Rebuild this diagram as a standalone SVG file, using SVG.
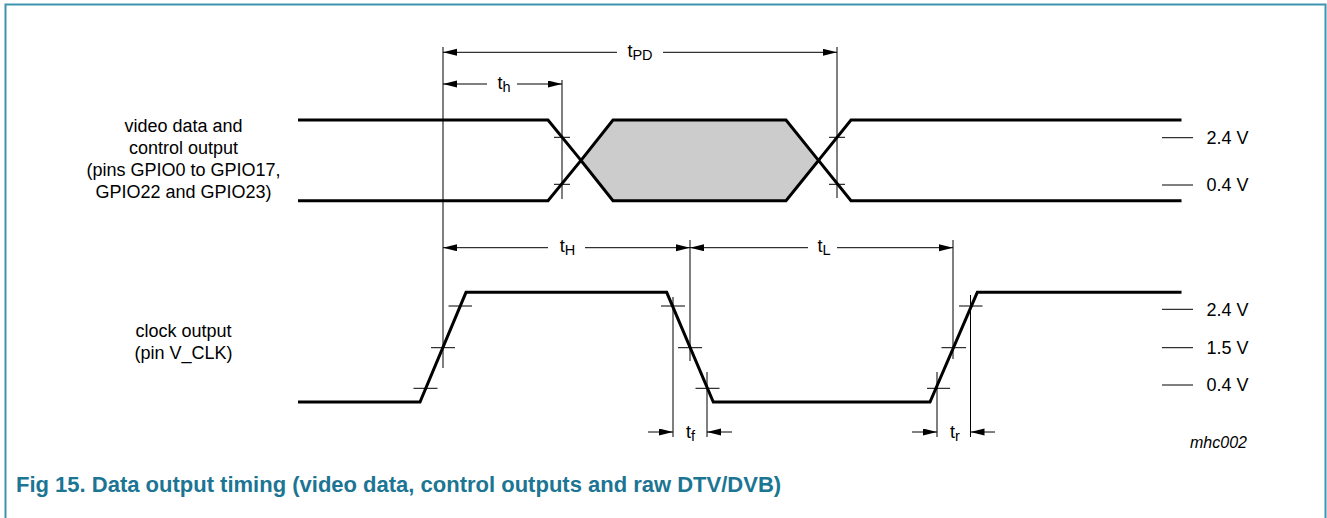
<svg xmlns="http://www.w3.org/2000/svg" width="1327" height="518" viewBox="0 0 1327 518">
<defs>
<marker id="ah" markerUnits="userSpaceOnUse" markerWidth="15" markerHeight="8" refX="14" refY="3.5" orient="auto">
<path d="M0,0 L14,3.5 L0,7 z" fill="#000"/>
</marker>
<style>
.sig{fill:none;stroke:#000;stroke-width:3;stroke-linejoin:miter}
.thin{fill:none;stroke:#000;stroke-width:1}
.dim{fill:none;stroke:#000;stroke-width:1;marker-end:url(#ah)}
.lbl{font-family:"Liberation Sans",Arial,sans-serif;font-size:18px;fill:#000}
.mid{text-anchor:middle}
.sub{font-size:14.5px}
.cap{font-family:"Liberation Sans",Arial,sans-serif;font-size:22px;font-weight:bold;fill:#1b7593}
</style>
</defs>
<rect width="1327" height="518" fill="#fff"/>
<path d="M5.5,518 V4.5 H1325.5 V518" fill="none" stroke="#3f95b0" stroke-width="2"/>

<g id="data-signal">
<polygon points="581,160.4 613,120 786,120 818.5,160.4 786,200.7 613,200.7" fill="#cccccc" stroke="#000" stroke-width="3"/>
<path class="sig" d="M298,120 H548 L581,160.4"/>
<path class="sig" d="M298,200.7 H548 L581,160.4"/>
<path class="sig" d="M818.5,160.4 L851,120 H1181.5"/>
<path class="sig" d="M818.5,160.4 L851,200.7 H1181.5"/>
<path class="thin" d="M554,137.3 H570 M554,184.3 H570 M829,137.3 H845 M829,184.3 H845"/>
</g>

<g id="clock-signal">
<path class="sig" d="M298,402 H420 L466,292.3 H666.7 L713.3,402 H930 L977.3,292.3 H1181.5"/>
<path class="thin" d="M448.5,306 H472 M431,347.7 H455 M413.5,388.3 H437.5 M661,306 H685 M678,347.7 H702 M695.5,388.3 H719.5 M927,388.3 H950 M941.5,347.7 H966 M959,306 H982.5"/>
</g>

<g id="connectors">
<path class="thin" d="M443,47 V368 M562,80 V199 M837,47 V198 M690,240 V361 M953,240 V359 M673,297 V437 M707,372 V437 M937,372 V437 M970.5,295 V437"/>
<line class="dim" x1="617" y1="52.3" x2="443" y2="52.3"/>
<line class="dim" x1="663" y1="52.3" x2="837" y2="52.3"/>
<line class="dim" x1="487" y1="84" x2="443" y2="84"/>
<line class="dim" x1="517" y1="84" x2="562" y2="84"/>
<line class="dim" x1="548" y1="247.7" x2="443" y2="247.7"/>
<line class="dim" x1="585" y1="247.7" x2="690" y2="247.7"/>
<line class="dim" x1="808" y1="247.7" x2="690" y2="247.7"/>
<line class="dim" x1="837" y1="247.7" x2="953" y2="247.7"/>
<line class="dim" x1="648" y1="432" x2="673" y2="432"/>
<line class="dim" x1="732" y1="432" x2="707" y2="432"/>
<line class="dim" x1="912" y1="432" x2="937" y2="432"/>
<line class="dim" x1="995" y1="432" x2="970.5" y2="432"/>
</g>

<g id="timing-labels">
<text class="lbl mid" x="640" y="57">t<tspan class="sub" dy="3">PD</tspan></text>
<text class="lbl mid" x="504" y="88.5">t<tspan class="sub" dy="3">h</tspan></text>
<text class="lbl mid" x="567.5" y="252">t<tspan class="sub" dy="3">H</tspan></text>
<text class="lbl mid" x="824" y="252">t<tspan class="sub" dy="3">L</tspan></text>
<text class="lbl mid" x="690.5" y="438">t<tspan class="sub" dy="3">f</tspan></text>
<text class="lbl mid" x="955" y="438">t<tspan class="sub" dy="3">r</tspan></text>
</g>

<g id="signal-names">
<text class="lbl mid" x="183.5" y="132">video data and</text>
<text class="lbl mid" x="183.5" y="154">control output</text>
<text class="lbl mid" x="183.5" y="176">(pins GPIO0 to GPIO17,</text>
<text class="lbl mid" x="183.5" y="198">GPIO22 and GPIO23)</text>
<text class="lbl mid" x="183.5" y="337">clock output</text>
<text class="lbl mid" x="183.5" y="359">(pin V_CLK)</text>
</g>

<g id="levels">
<path class="thin" d="M1162,137.7 H1193 M1162,185 H1193 M1162,309.3 H1193 M1162,347.7 H1193 M1162,385 H1193"/>
<text class="lbl" x="1206.5" y="144">2.4 V</text>
<text class="lbl" x="1206.5" y="191.3">0.4 V</text>
<text class="lbl" x="1206.5" y="315.6">2.4 V</text>
<text class="lbl" x="1206.5" y="354">1.5 V</text>
<text class="lbl" x="1206.5" y="391.3">0.4 V</text>
</g>

<text x="1190" y="448" font-family="'Liberation Sans',Arial,sans-serif" font-size="16" font-style="italic" fill="#000">mhc002</text>
<text class="cap" x="16" y="492">Fig 15. Data output timing (video data, control outputs and raw DTV/DVB)</text>
</svg>
